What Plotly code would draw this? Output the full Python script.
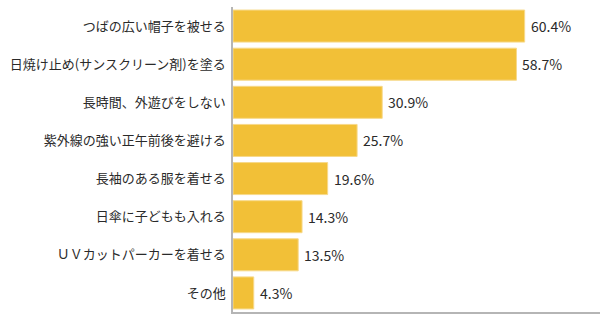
import plotly.graph_objects as go

# Survey answers (top to bottom) and share of respondents, %
categories = [
    "つばの広い帽子を被せる",
    "日焼け止め(サンスクリーン剤)を塗る",
    "長時間、外遊びをしない",
    "紫外線の強い正午前後を避ける",
    "長袖のある服を着せる",
    "日傘に子どもも入れる",
    "ＵＶカットパーカーを着せる",
    "その他",
]
values = [60.4, 58.7, 30.9, 25.7, 19.6, 14.3, 13.5, 4.3]
value_labels = [f"{v:.1f}%" for v in values]

font_family = "Noto Sans CJK JP"
text_color = "#2a2a2a"

fig = go.Figure(
    go.Bar(
        x=values,
        y=categories,
        orientation="h",
        marker=dict(color="#F2C037", line=dict(color="#F7D98A", width=1)),
        cliponaxis=False,
        width=0.84,
        hoverinfo="skip",
    )
)

# value labels just right of each bar end
for cat, val, lab in zip(categories, values, value_labels):
    fig.add_annotation(
        x=val,
        y=cat,
        text=lab,
        showarrow=False,
        xanchor="left",
        yanchor="middle",
        xshift=4,
        font=dict(family=font_family, size=14, color=text_color),
    )

fig.update_layout(
    width=600,
    height=322,
    margin=dict(l=233, r=0, t=7, b=10, autoexpand=False),
    paper_bgcolor="white",
    plot_bgcolor="white",
    showlegend=False,
    font=dict(family=font_family, size=13, color=text_color),
    xaxis=dict(
        range=[0, 76],
        showgrid=False,
        zeroline=False,
        showticklabels=False,
        ticks="",
        showline=True,
        linecolor="#B5B5B5",
        linewidth=1.5,
        automargin=False,
        fixedrange=True,
    ),
    yaxis=dict(
        autorange="reversed",
        showgrid=False,
        zeroline=False,
        showline=True,
        linecolor="#B5B5B5",
        linewidth=1.5,
        ticks="outside",
        ticklen=3,
        tickcolor="rgba(0,0,0,0)",
        tickfont=dict(family=font_family, size=13, color=text_color),
        automargin=False,
        fixedrange=True,
    ),
)

fig.write_html("out.html")
